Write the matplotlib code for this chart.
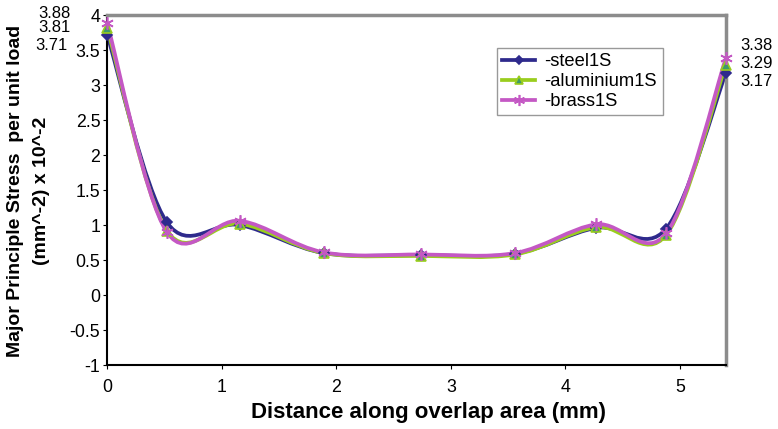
import numpy as np
import matplotlib.pyplot as plt
from matplotlib.path import Path
from matplotlib.patches import PathPatch
from matplotlib.lines import Line2D

plt.rcParams['font.family'] = ['Liberation Sans', 'DejaVu Sans']

distance = [0, 0.52, 1.16, 1.89, 2.74, 3.56, 4.27, 4.88, 5.4]
steel = [3.71, 1.04, 1.00, 0.60, 0.57, 0.59, 0.96, 0.95, 3.17]
aluminium = [3.81, 0.92, 1.02, 0.60, 0.56, 0.58, 0.97, 0.86, 3.29]
brass = [3.88, 0.90, 1.06, 0.61, 0.58, 0.60, 1.01, 0.88, 3.38]

series_names = ['-steel1S', '-aluminium1S', '-brass1S']
yticks = [-1, -0.5, 0, 0.5, 1, 1.5, 2, 2.5, 3, 3.5, 4]
xticks = [0, 1, 2, 3, 4, 5]
ylabel_lines = ['Major Principle Stress  per unit load', '(mm^-2) x 10^-2']


def smooth_path(x, y):
    # excel style smoothed line: catmull-rom segments drawn as cubic beziers
    pts = np.column_stack([x, y]).astype(float)
    n = len(pts)
    verts = [pts[0]]
    codes = [Path.MOVETO]
    for i in range(n - 1):
        p0 = pts[i - 1] if i > 0 else pts[i]
        p1 = pts[i]
        p2 = pts[i + 1]
        p3 = pts[i + 2] if i + 2 < n else pts[i + 1]
        verts += [p1 + (p2 - p0) / 6, p2 - (p3 - p1) / 6, p2]
        codes += [Path.CURVE4] * 3
    return Path(verts, codes)


fig = plt.figure(figsize=(7.78, 4.29), dpi=100)
ax = fig.add_axes([0.1379, 0.149, 0.795, 0.816])

styles = [
    dict(color='#2E2A8C', marker='D', mfc='#2E2A8C', mec='#2E2A8C', ms=5.5),
    dict(color='#9ACD1E', marker='^', mfc='#3E9A6A', mec='#9ACD1E', ms=7),
    dict(color='#C458C4', marker=(6, 2, 0), mfc='#C458C4', mec='#C458C4', ms=9),
]

handles = []
for vals, st, name in zip([steel, aluminium, brass], styles, series_names):
    patch = PathPatch(smooth_path(distance, vals), facecolor='none',
                      edgecolor=st['color'], lw=2.7, zorder=2)
    ax.add_patch(patch)
    ax.plot(distance, vals, ls='none', marker=st['marker'], mfc=st['mfc'],
            mec=st['mec'], ms=st['ms'], mew=1.2, zorder=3, clip_on=False)
    handles.append(Line2D([], [], color=st['color'], lw=2.7, marker=st['marker'],
                          mfc=st['mfc'], mec=st['mec'], ms=st['ms'] - 1, mew=1.2))

ax.set_xlim(0, 5.4)
ax.set_ylim(-1, 4)
ax.set_xticks(xticks)
ax.set_yticks(yticks)
ax.set_yticklabels([f'{t:g}' for t in yticks])
ax.tick_params(direction='out', length=3, labelsize=12.8)
ax.tick_params(axis='y', pad=2)
ax.tick_params(axis='x', pad=7)

for side in ['left', 'bottom']:
    ax.spines[side].set_color('black')
    ax.spines[side].set_linewidth(1.5)
for side in ['top', 'right']:
    ax.spines[side].set_color('#8C8C8C')
    ax.spines[side].set_linewidth(2.5)

ax.set_xlabel('Distance along overlap area (mm)', fontsize=16, fontweight='bold')
ax.xaxis.set_label_coords(0.520, -0.105)

# y label as two separate lines
fig.text(16 / 778, 1 - 191 / 429, ylabel_lines[0], rotation=90, ha='center', va='center',
         fontsize=14, fontweight='bold')
fig.text(42 / 778, 1 - 191 / 429, ylabel_lines[1], rotation=90, ha='center', va='center',
         fontsize=14, fontweight='bold')

# end value labels
fs = 12
fig.text(71 / 778, 1 - 13 / 429, f'{brass[0]:.2f}', ha='right', va='center', fontsize=fs)
fig.text(71 / 778, 1 - 28 / 429, f'{aluminium[0]:.2f}', ha='right', va='center', fontsize=fs)
fig.text(68 / 778, 1 - 45 / 429, f'{steel[0]:.2f}', ha='right', va='center', fontsize=fs)
fig.text(740 / 778, 1 - 45 / 429, f'{brass[-1]:.2f}', ha='left', va='center', fontsize=fs)
fig.text(740 / 778, 1 - 63 / 429, f'{aluminium[-1]:.2f}', ha='left', va='center', fontsize=fs)
fig.text(740 / 778, 1 - 81 / 429, f'{steel[-1]:.2f}', ha='left', va='center', fontsize=fs)

leg = ax.legend(handles, series_names, loc='upper left', bbox_to_anchor=(0.630, 0.906),
                borderaxespad=0, fontsize=13.2, frameon=True, fancybox=False,
                edgecolor='#808080', handlelength=1.8, borderpad=0.3, labelspacing=0.15,
                handletextpad=0.5)
leg.get_frame().set_linewidth(1.0)

fig.savefig('out.png', dpi=100)
